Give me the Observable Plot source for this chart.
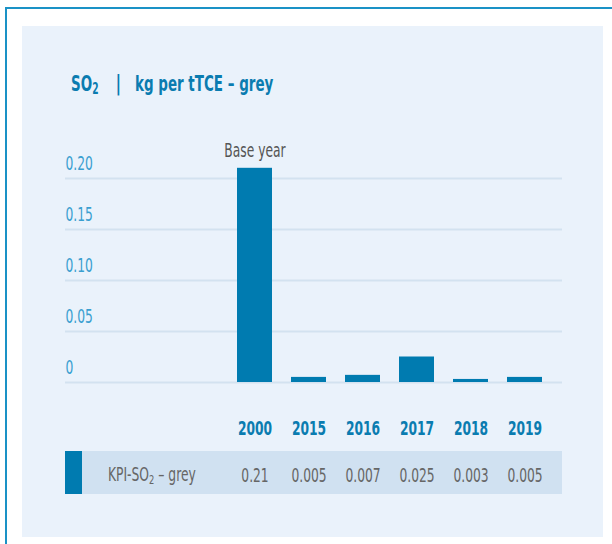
<!DOCTYPE html>
<html>
<head>
<meta charset="utf-8">
<script src="https://cdn.jsdelivr.net/npm/d3@7"></script>
<script src="https://cdn.jsdelivr.net/npm/@observablehq/plot@0.6"></script>
<style>
  html, body { margin: 0; padding: 0; background: #ffffff; }
  body { width: 612px; height: 544px; position: relative; overflow: hidden;
         font-family: "DejaVu Sans Condensed", "DejaVu Sans", sans-serif; }
  #frame { position: absolute; left: 5px; top: 7px; width: 640px; height: 580px;
           border-left: 2px solid #1a92c6; border-top: 2px solid #1a92c6; }
  #panel { position: absolute; left: 22px; top: 26px; width: 581px; height: 511px; background: #eaf2fb; }
  .t { position: absolute; white-space: nowrap; line-height: 1; transform-origin: left center; transform: scaleX(0.72); }
  .title { color: #0a7cb0; font-weight: bold; font-size: 22px; top: 73px; transform: scaleX(0.68); }
  .sep { font-weight: normal; font-size: 22px; color: #0a7cb0; top: 72px; transform: scaleX(1); }
  #row { position: absolute; left: 65px; top: 451px; width: 497px; height: 43px; background: #d0e1f1; }
  #rowkey { position: absolute; left: 65px; top: 451px; width: 17px; height: 43px; background: #007bb0; }
  #rowlabel { left: 108px; top: 465px; color: #666666; font-size: 19px; }
  #chart { position: absolute; left: 0; top: 0; }
  sub { font-size: 0.68em; vertical-align: -0.22em; line-height: 0; }
</style>
</head>
<body>
<div id="frame"></div>
<div id="panel"></div>
<div class="t title" style="left:71px">SO<sub>2</sub></div>
<div class="t sep" style="left:115px">|</div>
<div class="t title" style="left:135px">kg per tTCE – grey</div>
<div id="row"></div>
<div id="rowkey"></div>
<div class="t" id="rowlabel">KPI-SO<sub>2</sub> – grey</div>
<div id="chart"></div>
<script>
const years = ["2000", "2015", "2016", "2017", "2018", "2019"];
const values = [0.21, 0.005, 0.007, 0.025, 0.003, 0.005];
const yTicks = [0, 0.05, 0.10, 0.15, 0.20];
const yTickLabels = ["0", "0.05", "0.10", "0.15", "0.20"];
const baseYear = "2000";
const baseLabel = "Base year";

const data = years.map((year, i) => ({year, value: values[i]}));
const ticks = yTicks.map((v, i) => ({v, label: yTickLabels[i]}));

const font = '"DejaVu Sans Condensed", "DejaVu Sans", sans-serif';

const plot = Plot.plot({
  width: 612,
  height: 544,
  marginLeft: 65,
  marginRight: 50,
  marginTop: 178,
  marginBottom: 162,
  style: {background: "transparent", fontFamily: font, overflow: "visible"},
  x: {domain: years, range: [225.7, 553.3], paddingInner: 0.36, paddingOuter: 0.18, axis: null},
  y: {domain: [0, 0.2], axis: null},
  marks: [
    Plot.ruleY(ticks, {y: "v", stroke: "#d3e2f0", strokeWidth: 2}),
    Plot.text(ticks, {y: "v", text: "label", frameAnchor: "left", textAnchor: "start",
                      lineAnchor: "bottom", dy: -9, fill: "#3a9fd0", fontSize: 19}),
    Plot.barY(data, {x: "year", y: "value", fill: "#007bb0"}),
    Plot.text(data.filter(d => d.year === baseYear), {x: "year", y: "value", text: () => baseLabel,
                      lineAnchor: "bottom", dy: -11, fill: "#555555", fontSize: 19}),
    Plot.text(data, {x: "year", text: "year", frameAnchor: "bottom", lineAnchor: "bottom", dy: 52,
                     fill: "#0a7cb0", fontWeight: "bold", fontSize: 19}),
    Plot.text(data, {x: "year", text: d => String(d.value), frameAnchor: "bottom", lineAnchor: "bottom", dy: 99,
                     fill: "#666666", fontSize: 19})
  ]
});
// condensed look: squeeze each label horizontally around its own anchor
plot.querySelectorAll("text").forEach(t => {
  const tr = t.getAttribute("transform") || "";
  t.setAttribute("transform", tr + " scale(0.72,1)");
});
document.getElementById("chart").appendChild(plot);
</script>
</body>
</html>
